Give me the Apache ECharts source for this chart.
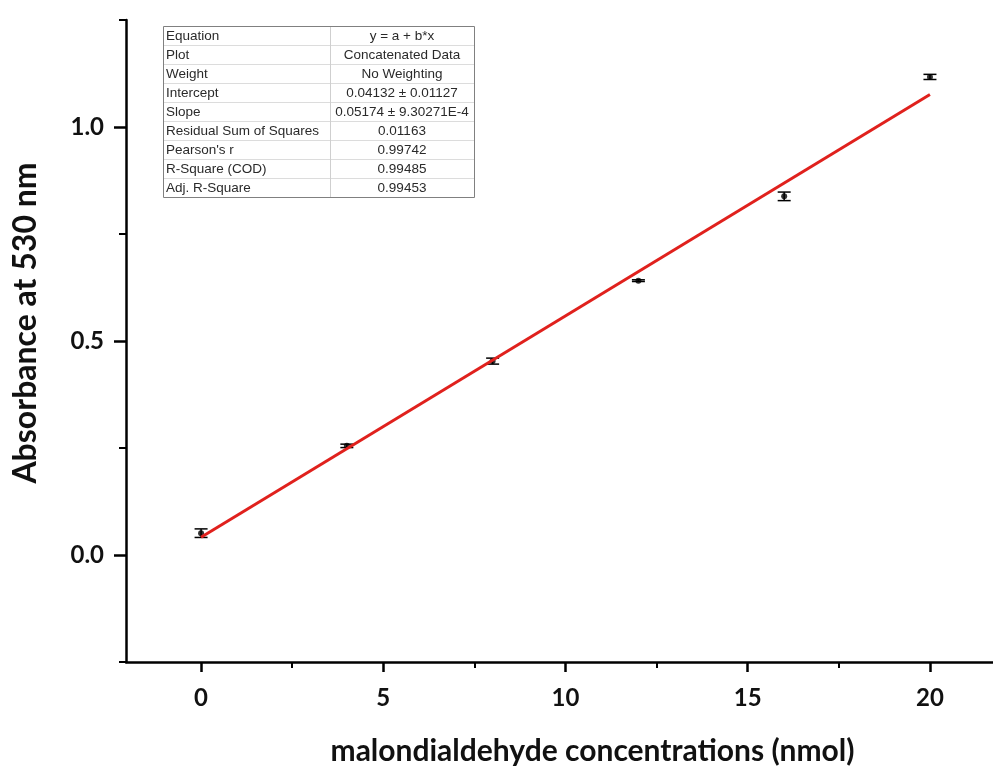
<!DOCTYPE html>
<html>
<head>
<meta charset="utf-8">
<script src="https://cdn.jsdelivr.net/npm/echarts@6/dist/echarts.min.js"></script>
<style>
html,body{margin:0;padding:0;background:#fff;}
#chart{width:993px;height:770px;}
</style>
</head>
<body>
<div id="chart"></div>
<script>
// ---- data ----
var concentrations = [0, 4, 8, 12, 16, 20];
var absorbance = [0.051, 0.255, 0.453, 0.641, 0.838, 1.117];
var absorbanceErr = [0.010, 0.004, 0.007, 0.002, 0.010, 0.006];
var fitLineX = [0, 20];
var fitLineY = [0.0413, 1.0761];
var xMajorTicks = [0, 5, 10, 15, 20];
var xMinorTicks = [2.5, 7.5, 12.5, 17.5];
var yMajorTicks = [0, 0.5, 1.0];
var yMinorTicks = [-0.25, 0.25, 0.75, 1.25];
var tableLabels = ['Equation', 'Plot', 'Weight', 'Intercept', 'Slope',
  'Residual Sum of Squares', "Pearson's r", 'R-Square (COD)', 'Adj. R-Square'];
var tableValues = ['y = a + b*x', 'Concatenated Data', 'No Weighting',
  '0.04132 \u00b1 0.01127', '0.05174 \u00b1 9.30271E-4', '0.01163',
  '0.99742', '0.99485', '0.99453'];
var xTitle = 'malondialdehyde concentrations (nmol)';
var yTitle = 'Absorbance at 530 nm';

// ---- build ----
var chart = echarts.init(document.getElementById('chart'));
var FONT = 'Lato';

var scatterData = concentrations.map(function (x, i) { return [x, absorbance[i]]; });
var errData = concentrations.map(function (x, i) { return [x, absorbance[i] - absorbanceErr[i], absorbance[i] + absorbanceErr[i]]; });
var fitData = fitLineX.map(function (x, i) { return [x, fitLineY[i]]; });

// table graphic
var tL = 163, tT = 26, tR = 474, colX = 330, rowH = 19;
var tRows = tableLabels.length;
var tB = tT + rowH * tRows;
var TFONT = '13.5px "Liberation Sans", Arial, sans-serif';
var graphics = [];
graphics.push({ type: 'rect', shape: { x: tL, y: tT, width: tR - tL, height: tB - tT },
  style: { fill: '#fff', stroke: 'none' }, z: 50 });
for (var r = 1; r < tRows; r++) {
  graphics.push({ type: 'line', shape: { x1: tL, y1: tT + r * rowH + 0.5, x2: tR, y2: tT + r * rowH + 0.5 },
    style: { stroke: '#dcdcdc', lineWidth: 1 }, z: 51 });
}
graphics.push({ type: 'line', shape: { x1: colX + 0.5, y1: tT, x2: colX + 0.5, y2: tB },
  style: { stroke: '#cfcfcf', lineWidth: 1 }, z: 51 });
graphics.push({ type: 'rect', shape: { x: tL + 0.5, y: tT + 0.5, width: tR - tL, height: tB - tT },
  style: { fill: 'none', stroke: '#808080', lineWidth: 1 }, z: 52 });
for (var i = 0; i < tRows; i++) {
  var cy = tT + i * rowH + rowH / 2 + 0.5;
  graphics.push({ type: 'text', x: tL + 3, y: cy, z: 53,
    style: { text: tableLabels[i], fill: '#2a2a2a', font: TFONT, verticalAlign: 'middle', align: 'left' } });
  graphics.push({ type: 'text', x: (colX + tR) / 2, y: cy, z: 53,
    style: { text: tableValues[i], fill: '#2a2a2a', font: TFONT, verticalAlign: 'middle', align: 'center' } });
}

var axisLabelStyle = { fontFamily: FONT, fontWeight: 'bold', fontSize: 24, color: '#111' };

var option = {
  backgroundColor: '#fff',
  animation: false,
  grid: { left: 126, right: 0, top: 20, bottom: 108, containLabel: false, outerBoundsMode: 'none' },
  xAxis: [{
    type: 'value', min: -2.06, max: 21.73,
    name: xTitle, nameLocation: 'middle', nameGap: 74,
    nameTextStyle: { fontFamily: FONT, fontWeight: 'bold', fontSize: 30, color: '#111', padding: [0, 0, 0, 66] },
    axisLine: { show: true, onZero: false, lineStyle: { color: '#000', width: 2.5 } },
    axisTick: { show: true, inside: false, length: 10, customValues: xMajorTicks, lineStyle: { color: '#000', width: 2.5 } },
    axisLabel: Object.assign({ margin: 24, customValues: xMajorTicks }, axisLabelStyle),
    splitLine: { show: false }
  }, {
    type: 'value', min: -2.06, max: 21.73, position: 'bottom', offset: 0,
    axisLine: { show: false, onZero: false },
    axisTick: { show: true, inside: false, length: 6, customValues: xMinorTicks, lineStyle: { color: '#000', width: 2 } },
    axisLabel: { show: false },
    splitLine: { show: false }
  }],
  yAxis: [{
    type: 'value', min: -0.25, max: 1.25,
    name: yTitle, nameLocation: 'middle', nameGap: 84, nameRotate: 90,
    nameTextStyle: { fontFamily: FONT, fontWeight: 'bold', fontSize: 32, color: '#111', padding: [0, 0, 0, 36] },
    axisLine: { show: true, onZero: false, lineStyle: { color: '#000', width: 2.5 } },
    axisTick: { show: true, inside: false, length: 12, customValues: yMajorTicks, lineStyle: { color: '#000', width: 2.5 } },
    axisLabel: Object.assign({ margin: 22, customValues: yMajorTicks, formatter: function (v) { return v.toFixed(1); } }, axisLabelStyle),
    splitLine: { show: false }
  }, {
    type: 'value', min: -0.25, max: 1.25, position: 'left', offset: 0,
    axisLine: { show: false, onZero: false },
    axisTick: { show: true, inside: false, length: 7, customValues: yMinorTicks, lineStyle: { color: '#000', width: 2 } },
    axisLabel: { show: false },
    splitLine: { show: false }
  }],
  series: [{
    type: 'custom',
    name: 'error',
    xAxisIndex: 0, yAxisIndex: 0,
    data: errData,
    z: 3,
    renderItem: function (params, api) {
      var x = api.value(0);
      var lo = api.coord([x, api.value(1)]);
      var hi = api.coord([x, api.value(2)]);
      var hw = 6.5;
      return {
        type: 'group',
        children: [
          { type: 'line', shape: { x1: lo[0], y1: lo[1], x2: hi[0], y2: hi[1] }, style: { stroke: '#000', lineWidth: 1.5 } },
          { type: 'line', shape: { x1: lo[0] - hw, y1: lo[1], x2: lo[0] + hw, y2: lo[1] }, style: { stroke: '#000', lineWidth: 1.5 } },
          { type: 'line', shape: { x1: hi[0] - hw, y1: hi[1], x2: hi[0] + hw, y2: hi[1] }, style: { stroke: '#000', lineWidth: 1.5 } }
        ]
      };
    }
  }, {
    type: 'scatter',
    name: 'data',
    data: scatterData,
    symbol: 'circle',
    symbolSize: 6,
    itemStyle: { color: '#000' },
    z: 4
  }, {
    type: 'line',
    name: 'fit',
    data: fitData,
    showSymbol: false,
    symbol: 'none',
    lineStyle: { color: '#e0211d', width: 3 },
    z: 5
  }],
  graphic: graphics
};
chart.setOption(option);
</script>
</body>
</html>
